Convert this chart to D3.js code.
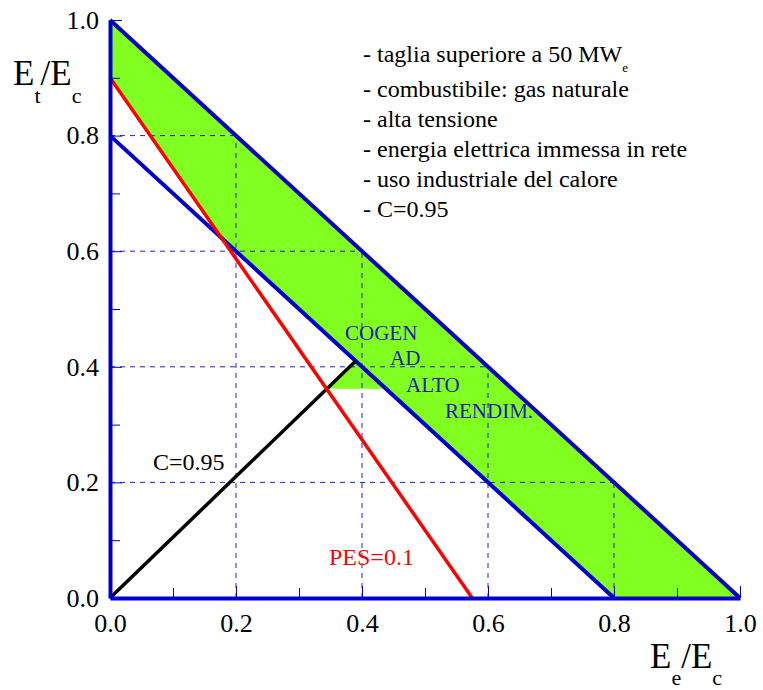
<!DOCTYPE html>
<html>
<head>
<meta charset="utf-8">
<script src="https://cdn.jsdelivr.net/npm/d3@7"></script>
<style>
  body { margin: 0; background: #fff; }
</style>
</head>
<body>
<div id="chart"></div>
<script>
// data
var majorTicks = [0, 0.2, 0.4, 0.6, 0.8, 1.0];
var minorTicks = [0.1, 0.3, 0.5, 0.7, 0.9];
var upperLine = [[0, 1], [1, 0]];
var lowerLine = [[0, 0.8], [0.8, 0]];
var pesLine = [[0, 0.9], [0.575, 0]];
var cLine = [[0, 0], [0.39, 0.41]];
var greenArea = [[0, 1], [1, 0], [0.8, 0], [0.438, 0.362], [0.344, 0.362],
                 [0.39, 0.41], [0.177, 0.623], [0, 0.9]];
// guides: horizontal at y=level from x=0 to end, vertical at x=level from y=0 to end
var guideLevels = [0.2, 0.4, 0.6, 0.8];
var guideEnds = [0.8, 0.6, 0.4, 0.2];
var notes = ["- combustibile: gas naturale", "- alta tensione",
             "- energia elettrica immessa in rete", "- uso industriale del calore", "- C=0.95"];
var regionLabel = ["COGEN", "AD", "ALTO", "RENDIM."];

// pick an installed serif face (Times-like if possible)
function pickFont(list) {
  var c = document.createElement("canvas").getContext("2d");
  var sample = "abcdefghijklmnopqrstuvwxyz0123456789ABCDEFGHIJ";
  c.font = "72px monospace";
  var base = c.measureText(sample).width;
  for (var i = 0; i < list.length; i++) {
    c.font = "72px '" + list[i] + "', monospace";
    if (c.measureText(sample).width !== base) return "'" + list[i] + "'";
  }
  return "serif";
}
var serif = pickFont(["Liberation Serif", "Times New Roman", "Tinos", "Times", "Noto Serif", "DejaVu Serif"]);

var W = 763, H = 690;
var svg = d3.select("#chart").append("svg")
    .attr("width", W)
    .attr("height", H)
    .style("font-family", serif);

var x = d3.scaleLinear().domain([0, 1]).range([110, 740]);
var y = d3.scaleLinear().domain([0, 1]).range([598, 20]);

var line = d3.line()
    .x(function(d) { return x(d[0]); })
    .y(function(d) { return y(d[1]); });
var area = d3.line()
    .x(function(d) { return x(d[0]); })
    .y(function(d) { return y(d[1]); })
    .curve(d3.curveLinearClosed);

// green area
svg.append("path")
    .datum(greenArea)
    .attr("d", area)
    .attr("fill", "#80ff20")
    .attr("stroke", "none");

// dashed guides
guideLevels.forEach(function(v, i) {
  svg.append("line")
      .attr("x1", x(0)).attr("x2", x(guideEnds[i]))
      .attr("y1", y(v)).attr("y2", y(v))
      .attr("stroke", "#2222cc").attr("stroke-width", 1)
      .attr("stroke-dasharray", "5,5");
  svg.append("line")
      .attr("x1", x(v)).attr("x2", x(v))
      .attr("y1", y(0)).attr("y2", y(guideEnds[i]))
      .attr("stroke", "#2222cc").attr("stroke-width", 1)
      .attr("stroke-dasharray", "5,5");
});

// lines
svg.append("path").datum(lowerLine).attr("d", line)
    .attr("fill", "none").attr("stroke", "#0000cc").attr("stroke-width", 4);
svg.append("path").datum(cLine).attr("d", line)
    .attr("fill", "none").attr("stroke", "#000").attr("stroke-width", 3.5);
svg.append("path").datum(pesLine).attr("d", line)
    .attr("fill", "none").attr("stroke", "#ff0000").attr("stroke-width", 3.5);
svg.append("path").datum(upperLine).attr("d", line)
    .attr("fill", "none").attr("stroke", "#0000cc").attr("stroke-width", 4);

// axes
function styleAxis(g) {
  g.attr("font-family", null);
  g.select(".domain").attr("stroke", "#0000cc").attr("stroke-width", 4);
  g.selectAll(".tick line").attr("stroke", "#0000cc").attr("stroke-width", 1);
  g.selectAll(".tick text")
      .attr("fill", "#000")
      .style("font-family", serif)
      .style("font-size", "26px");
}

svg.append("g")
    .attr("transform", "translate(0," + y(0) + ")")
    .call(d3.axisBottom(x).tickValues(minorTicks).tickSize(-10).tickFormat(""))
    .call(function(g) { g.select(".domain").remove(); })
    .call(styleAxis);
svg.append("g")
    .attr("transform", "translate(" + x(0) + ",0)")
    .call(d3.axisLeft(y).tickValues(minorTicks).tickSize(-10).tickFormat(""))
    .call(function(g) { g.select(".domain").remove(); })
    .call(styleAxis);

svg.append("g")
    .attr("transform", "translate(0," + y(0) + ")")
    .call(d3.axisBottom(x).tickValues(majorTicks).tickSizeInner(-12).tickSizeOuter(0)
      .tickPadding(16).tickFormat(d3.format(".1f")))
    .call(styleAxis);
svg.append("g")
    .attr("transform", "translate(" + x(0) + ",0)")
    .call(d3.axisLeft(y).tickValues(majorTicks).tickSizeInner(-12).tickSizeOuter(0)
      .tickPadding(11).tickFormat(d3.format(".1f")))
    .call(styleAxis);

// axis titles
var yt = svg.append("text").attr("x", 13).attr("y", 85).style("font-size", "35px");
yt.append("tspan").text("E");
yt.append("tspan").attr("dy", 18).style("font-size", "22px").text("t");
yt.append("tspan").attr("dy", -18).text("/E");
yt.append("tspan").attr("dy", 18).style("font-size", "22px").text("c");

var xt = svg.append("text").attr("x", 650).attr("y", 668).style("font-size", "35px");
xt.append("tspan").text("E");
xt.append("tspan").attr("dy", 17).style("font-size", "22px").text("e");
xt.append("tspan").attr("dy", -17).text("/E");
xt.append("tspan").attr("dy", 17).style("font-size", "22px").text("c");

// notes
var n1 = svg.append("text").attr("x", 363).attr("y", 62).style("font-size", "24px");
n1.append("tspan").text("- taglia superiore a 50 MW");
n1.append("tspan").attr("dy", 10).style("font-size", "13px").text("e");
svg.selectAll("text.note")
    .data(notes)
    .enter()
    .append("text")
      .attr("class", "note")
      .attr("x", 363)
      .attr("y", function(d, i) { return 97 + i * 30; })
      .style("font-size", "24px")
      .text(function(d) { return d; });

// line labels
svg.append("text").attr("x", 153).attr("y", 470)
    .style("font-size", "24px").attr("fill", "#000").text("C=0.95");
svg.append("text").attr("x", 329).attr("y", 565)
    .style("font-size", "24px").attr("fill", "#ff0000").text("PES=0.1");

var labelX = [345, 390, 406, 445];
var labelY = [340, 365, 392, 418];
svg.selectAll("text.region")
    .data(regionLabel)
    .enter()
    .append("text")
      .attr("class", "region")
      .attr("x", function(d, i) { return labelX[i]; })
      .attr("y", function(d, i) { return labelY[i]; })
      .attr("fill", "#1c1cb4")
      .style("font-size", "21px")
      .text(function(d) { return d; });
</script>
</body>
</html>
